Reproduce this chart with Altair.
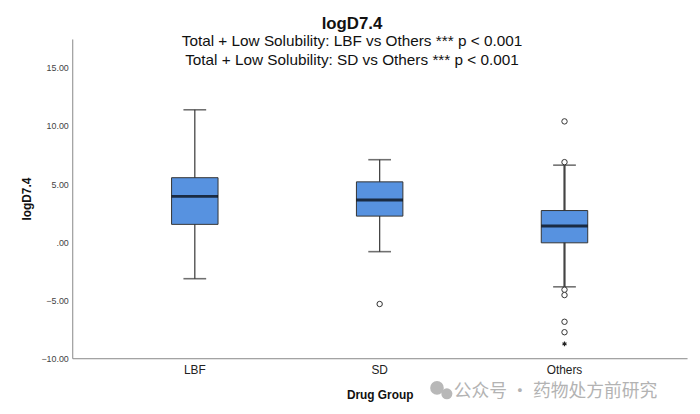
import altair as alt
import pandas as pd

# ---- data ----
groups = ["LBF", "SD", "Others"]
whisker_low = [-3.15, -0.82, -3.85]
q1 = [1.53, 2.24, -0.06]
median = [3.94, 3.63, 1.39]
q3 = [5.55, 5.19, 2.72]
whisker_high = [11.4, 7.1, 6.63]
whisker_width = [1.3, 1.3, 2.2]

outlier_group = ["SD", "Others", "Others", "Others", "Others", "Others", "Others"]
outlier_value = [-5.33, 10.4, 6.89, -4.1, -4.56, -6.86, -7.76]
extreme_group = ["Others"]
extreme_value = [-8.76]

y_ticks = [-10, -5, 0, 5, 10, 15]

title_text = "logD7.4"
subtitle_lines = [
    "Total + Low Solubility: LBF vs Others *** p < 0.001",
    "Total + Low Solubility: SD vs Others *** p < 0.001",
]
watermark = "公众号 · 药物处方前研究"

FONT = "Liberation Sans"
BOX_FILL = "#5792e0"

stats = pd.DataFrame({
    "group": groups, "lo": whisker_low, "q1": q1, "med": median,
    "q3": q3, "hi": whisker_high, "lw": whisker_width,
})
outliers = pd.DataFrame({"group": outlier_group, "value": outlier_value})
extremes = pd.DataFrame({"group": extreme_group, "value": extreme_value})

x_scale = alt.Scale(domain=groups, paddingInner=0.2, paddingOuter=0.263)
y_scale = alt.Scale(domain=[-10, 17.5], nice=False, zero=False)

x_enc = alt.X("group:N", scale=x_scale, sort=groups,
              axis=alt.Axis(title="Drug Group", labelAngle=0, ticks=False,
                            labelFontSize=12, labelColor="#222", labelFont=FONT,
                            labelPadding=6, titleFont=FONT, titleFontSize=12,
                            titleFontWeight="bold", titleColor="#111",
                            titlePadding=15, domainColor="#888"))
y_axis = alt.Axis(title="logD7.4", values=y_ticks, grid=False, ticks=False,
                  labelExpr="datum.value == 0 ? '.00' : format(datum.value, '.2f')",
                  labelFontSize=9, labelColor="#444", labelFont=FONT,
                  labelPadding=4, titleFont=FONT, titleFontSize=12,
                  titleFontWeight="bold", titleColor="#111", titlePadding=7,
                  domainColor="#888")

base = alt.Chart(stats)

whisker = base.mark_rule(color="#444").encode(
    x=x_enc,
    y=alt.Y("lo:Q", scale=y_scale, axis=y_axis),
    y2="hi:Q",
    strokeWidth=alt.StrokeWidth("lw:Q", scale=None),
)
caps_lo = base.mark_tick(size=23, thickness=1.6, color="#333").encode(
    x="group:N", y="lo:Q")
caps_hi = base.mark_tick(size=23, thickness=1.6, color="#333").encode(
    x="group:N", y="hi:Q")
box = base.mark_bar(size=47, fill=BOX_FILL, stroke="#333", strokeWidth=1).encode(
    x="group:N", y="q1:Q", y2="q3:Q")
med = base.mark_tick(size=47, thickness=3, color="#000").encode(
    x="group:N", y="med:Q")

out_pts = alt.Chart(outliers).mark_point(
    shape="circle", size=30, filled=False, fill="white", fillOpacity=1,
    stroke="#333", strokeWidth=1, opacity=1).encode(
    x="group:N", y="value:Q")

ext_pts = alt.Chart(extremes).mark_point(
    shape="M0,-1L0,1M-0.87,-0.5L0.87,0.5M-0.87,0.5L0.87,-0.5",
    size=22, filled=False, stroke="#222", strokeWidth=1.2, opacity=1).encode(
    x="group:N", y="value:Q")

wm_df = pd.DataFrame({"t": [watermark]})
wm_text = alt.Chart(wm_df).mark_text(
    font="Noto Sans CJK SC", fontSize=18, color="#b3b3b3", align="left",
    baseline="middle").encode(text="t:N", x=alt.value(386), y=alt.value(357))
icon_df = pd.DataFrame({"k": ["a", "b"], "px": [369, 379], "py": [353, 359],
                        "sz": [190, 125]})
wm_icon = alt.Chart(icon_df).mark_point(
    shape="circle", filled=True, color="#b8b8b8", opacity=1).encode(
    x=alt.X("px:Q", scale=None), y=alt.Y("py:Q", scale=None),
    size=alt.Size("sz:Q", scale=None))

chart = alt.layer(
    whisker, caps_lo, caps_hi, box, med, out_pts, ext_pts, wm_icon, wm_text
).properties(
    width=622, height=323, background="white",
    title=alt.TitleParams(
        text=title_text, subtitle=subtitle_lines, font=FONT, fontSize=17,
        fontWeight="bold", color="#111", subtitleFont=FONT,
        subtitleFontSize=15.5, subtitleColor="#111", subtitleLineHeight=19,
        subtitlePadding=2, anchor="middle", dx=-28, offset=-31),
    padding={"left": 65, "top": 29, "right": 5, "bottom": 45},
    autosize=alt.AutoSizeParams(type="none"),
).configure_view(stroke=None, strokeWidth=0)

chart.save("out.html", embed_options={"renderer": "svg", "actions": False})
